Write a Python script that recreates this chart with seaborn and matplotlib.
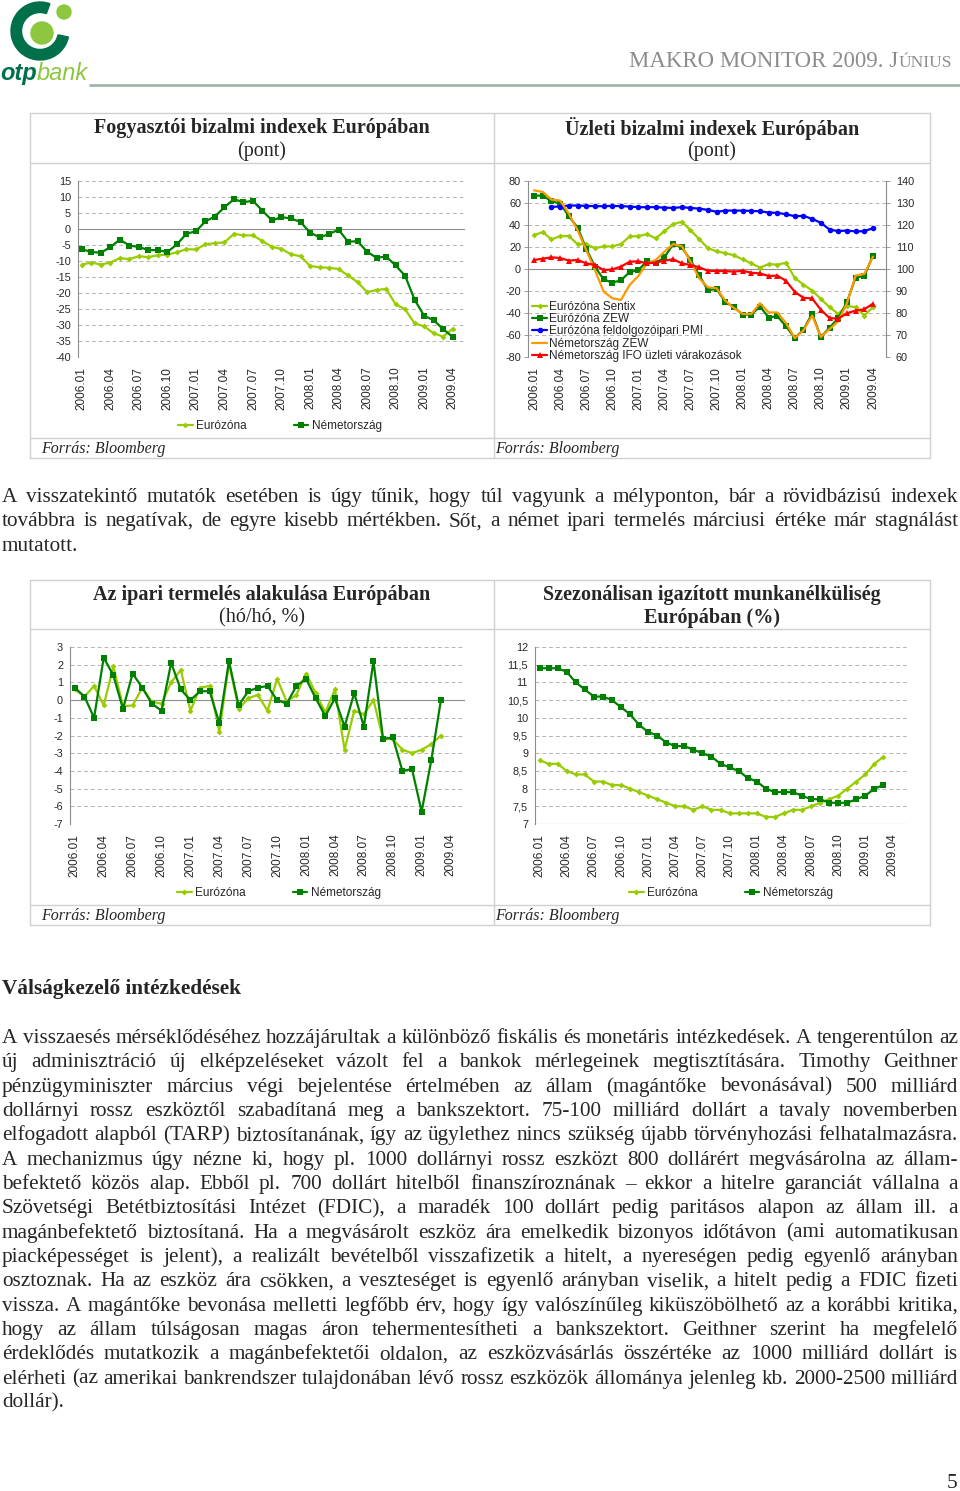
import numpy as np
import matplotlib
matplotlib.use("Agg")
import matplotlib.pyplot as plt
from matplotlib.lines import Line2D
from matplotlib.patches import Wedge, Circle
import seaborn as sns

sns.set_style("white")
plt.rcParams['font.family'] = ['Liberation Sans', 'DejaVu Sans']
plt.rcParams['axes.unicode_minus'] = False
SERIF = ['Liberation Serif', 'DejaVu Serif']

W, H = 960, 1491

# monthly axis 2006.01 - 2009.04, every 3rd month labelled
tick_labels = ['2006.01', '2006.04', '2006.07', '2006.10', '2007.01', '2007.04', '2007.07',
               '2007.10', '2008.01', '2008.04', '2008.07', '2008.10', '2009.01', '2009.04']
tick_pos = np.arange(0, 40, 3)

# Fogyasztói bizalmi indexek (pont), 2006.01-2009.04
cons_euro = [-11.1, -10.5, -11.1, -10.5, -9.1, -9.4, -8.5, -8.8, -8.2, -8.0,
             -7.3, -6.3, -6.4, -4.8, -4.4, -4.2, -1.5, -2.0, -2.0, -3.8,
             -5.6, -6.2, -7.9, -8.5, -11.5, -12.0, -12.1, -12.5, -14.5, -16.6,
             -19.7, -19.1, -18.7, -23.5, -25.1, -29.5, -30.4, -32.6, -33.6, -31.2]
cons_de = [-6.3, -7.2, -7.4, -5.7, -3.3, -5.2, -5.6, -6.6, -6.6, -7.2,
           -4.8, -1.5, -0.7, 2.4, 3.9, 6.8, 9.3, 8.4, 8.8, 5.7,
           2.7, 3.7, 3.3, 2.2, -1.1, -2.6, -1.6, -0.2, -4.0, -3.8,
           -7.1, -9.0, -8.6, -11.4, -14.6, -22.1, -27.1, -28.5, -31.3, -33.7]

# Üzleti bizalmi indexek
sentix = [30.8, 33.5, 26.9, 29.9, 29.9, 22.6, 22.6, 19.0, 20.5, 20.5,
          22.6, 29.6, 29.9, 31.7, 27.8, 34.4, 40.8, 42.9, 35.3, 27.2,
          19.0, 16.0, 14.5, 12.4, 8.8, 5.1, 1.2, 4.5, 3.9, 5.7,
          -8.2, -14.2, -19.6, -27.2, -34.7, -40.8, -33.5, -34.7, -42.3, -34.7]
zew_euro = [66.7, 66.7, 61.6, 59.5, 48.0, 37.7, 18.4, 2.1, -9.4, -12.4,
            -10.3, -2.7, -1.2, 7.5, 5.4, 10.6, 22.6, 19.6, 8.2, -5.7,
            -19.3, -18.1, -29.9, -34.7, -41.4, -41.4, -34.1, -44.1, -42.9, -52.2,
            -62.8, -55.2, -40.5, -61.9, -53.4, -44.7, -30.2, -7.8, -6.3, 12.1]
pmi_euro = [56.5, 56.8, 57.7, 57.7, 57.4, 57.1, 57.1, 57.4, 57.1, 56.8,
            56.2, 56.2, 56.2, 55.8, 55.5, 56.2, 55.5, 54.9, 53.7, 52.0,
            53.1, 53.1, 53.1, 52.8, 52.5, 51.3, 51.0, 49.8, 48.0, 48.3,
            45.6, 42.0, 35.9, 34.4, 35.0, 34.1, 34.4, 37.1]  # 2006.03-tól
zew_de = [71.5, 70.0, 63.1, 62.2, 50.4, 35.3, 17.2, -0.9, -20.5, -26.6,
          -28.1, -14.5, -6.3, 5.1, 8.2, 15.7, 22.6, 20.8, 6.6, -8.5,
          -16.6, -17.5, -28.7, -35.6, -40.8, -40.8, -31.1, -39.5, -39.5, -49.2,
          -62.8, -55.8, -42.3, -61.9, -54.6, -47.7, -31.1, -6.0, -4.5, 11.2]
ifo_de = [104.1, 104.7, 105.3, 105.0, 103.8, 104.1, 102.6, 101.8, 99.5, 99.8,
          101.1, 103.3, 103.5, 102.6, 102.9, 103.8, 104.4, 102.6, 101.8, 100.8,
          99.2, 99.1, 99.1, 98.8, 99.2, 98.3, 98.0, 96.8, 97.0, 94.6,
          89.6, 86.9, 86.6, 81.5, 77.7, 77.4, 79.9, 81.1, 81.7, 84.2]

# Ipari termelés (hó/hó, %), 2006.01-2009.03
ip_euro = [0.6, 0.2, 0.8, -0.3, 1.9, -0.35, -0.3, 0.7, -0.1, -0.2,
           1.0, 1.7, -0.6, 0.7, 0.8, -1.8, 2.1, -0.5, 0.1, 0.3,
           -0.6, 1.2, -0.1, 0.3, 1.5, 0.4, -0.7, 0.6, -2.8, -0.6,
           -0.8, 0.0, -2.2, -2.2, -2.8, -3.0, -2.8, -2.5, -2.0]
ip_de = [0.7, 0.2, -1.0, 2.4, 1.4, -0.5, 1.5, 0.7, -0.2, -0.6,
         2.1, 0.6, 0.0, 0.5, 0.5, -1.3, 2.2, -0.3, 0.5, 0.7,
         0.8, 0.0, -0.2, 0.8, 1.2, 0.1, -0.9, 0.1, -1.5, 0.4,
         -1.5, 2.2, -2.2, -2.1, -4.0, -3.9, -6.3, -3.4, 0.0]

# Munkanélküliség (%), 2006.01-2009.03
unemp_euro = [8.8, 8.7, 8.7, 8.5, 8.4, 8.4, 8.2, 8.2, 8.1, 8.1,
              8.0, 7.9, 7.8, 7.7, 7.6, 7.5, 7.5, 7.4, 7.5, 7.4,
              7.4, 7.3, 7.3, 7.3, 7.3, 7.2, 7.2, 7.3, 7.4, 7.4,
              7.5, 7.6, 7.7, 7.8, 8.0, 8.2, 8.4, 8.7, 8.9]
unemp_de = [11.4, 11.4, 11.4, 11.3, 11.0, 10.8, 10.6, 10.6, 10.5, 10.3,
            10.1, 9.8, 9.6, 9.5, 9.3, 9.2, 9.2, 9.1, 9.0, 8.9,
            8.7, 8.6, 8.5, 8.3, 8.2, 8.0, 7.9, 7.9, 7.9, 7.8,
            7.7, 7.7, 7.6, 7.6, 7.6, 7.7, 7.8, 8.0, 8.1]
unemp_ticks = [7, 7.5, 8, 8.5, 9, 9.5, 10, 10.5, 11, 11.5, 12]
unemp_labels = ['7', '7,5', '8', '8,5', '9', '9,5', '10', '10,5', '11', '11,5', '12']

para1 = [
    "A visszatekintő mutatók esetében is úgy tűnik, hogy túl vagyunk a mélyponton, bár a rövidbázisú indexek",
    "továbbra is negatívak, de egyre kisebb mértékben. Sőt, a német ipari termelés márciusi értéke már stagnálást",
    "mutatott.",
]
para2 = [
    "A visszaesés mérséklődéséhez hozzájárultak a különböző fiskális és monetáris intézkedések. A tengerentúlon az",
    "új adminisztráció új elképzeléseket vázolt fel a bankok mérlegeinek megtisztítására. Timothy Geithner",
    "pénzügyminiszter március végi bejelentése értelmében az állam (magántőke bevonásával) 500 milliárd",
    "dollárnyi rossz eszköztől szabadítaná meg a bankszektort. 75-100 milliárd dollárt a tavaly novemberben",
    "elfogadott alapból (TARP) biztosítanának, így az ügylethez nincs szükség újabb törvényhozási felhatalmazásra.",
    "A mechanizmus úgy nézne ki, hogy pl. 1000 dollárnyi rossz eszközt 800 dollárért megvásárolna az állam-",
    "befektető közös alap. Ebből pl. 700 dollárt hitelből finanszíroznának – ekkor a hitelre garanciát vállalna a",
    "Szövetségi Betétbiztosítási Intézet (FDIC), a maradék 100 dollárt pedig paritásos alapon az állam ill. a",
    "magánbefektető biztosítaná. Ha a megvásárolt eszköz ára emelkedik bizonyos időtávon (ami automatikusan",
    "piacképességet is jelent), a realizált bevételből visszafizetik a hitelt, a nyereségen pedig egyenlő arányban",
    "osztoznak. Ha az eszköz ára csökken, a veszteséget is egyenlő arányban viselik, a hitelt pedig a FDIC fizeti",
    "vissza. A magántőke bevonása melletti legfőbb érv, hogy így valószínűleg kiküszöbölhető az a korábbi kritika,",
    "hogy az állam túlságosan magas áron tehermentesítheti a bankszektort. Geithner szerint ha megfelelő",
    "érdeklődés mutatkozik a magánbefektetői oldalon, az eszközvásárlás összértéke az 1000 milliárd dollárt is",
    "elérheti (az amerikai bankrendszer tulajdonában lévő rossz eszközök állománya jelenleg kb. 2000-2500 milliárd",
    "dollár).",
]

LIGHT = '#99CC00'
DARK = '#008000'
GRID = '#b4b4b4'
AXIS = '#8c8c8c'
BORDER = '#d0d0d0'
YTICK_FS = 7.8
XTICK_FS = 8.5
LEG_FS = 8.5

fig = plt.figure(figsize=(W / 100, H / 100), dpi=100, facecolor='white')
page = fig.add_axes([0, 0, 1, 1], zorder=0)
page.set_xlim(0, W)
page.set_ylim(H, 0)
page.axis('off')
renderer = fig.canvas.get_renderer()


def box(x0, y0, x1, y1):
    ax = fig.add_axes([x0 / W, 1 - y1 / H, (x1 - x0) / W, (y1 - y0) / H], zorder=2)
    ax.patch.set_alpha(0)
    return ax


def series(ax, y, color, marker, start=0, ms=4.0, lw=1.6):
    x = np.arange(start, start + len(y))
    sns.lineplot(x=x, y=y, ax=ax, color=color, marker=marker, markersize=ms,
                 markeredgewidth=0, linewidth=lw, legend=False, zorder=3)


def style(ax, ylim, yticks, xlim, ylabels=None, base=0):
    ax.set_xlim(*xlim)
    ax.set_ylim(*ylim)
    ax.set_yticks(yticks)
    if ylabels is not None:
        ax.set_yticklabels(ylabels)
    ax.set_xticks(tick_pos)
    ax.set_xticklabels(tick_labels, rotation=90)
    ax.set_axisbelow(True)
    ax.yaxis.grid(True, linestyle=(0, (4, 3)), color=GRID, linewidth=0.7)
    ax.xaxis.grid(False)
    for s in ['top', 'right', 'bottom']:
        ax.spines[s].set_visible(False)
    ax.spines['left'].set_color(AXIS)
    ax.spines['left'].set_linewidth(0.8)
    ax.axhline(base, color=AXIS, linewidth=0.8, zorder=1)
    ax.tick_params(axis='y', length=3, width=0.6, color=AXIS, labelsize=YTICK_FS, pad=2)
    ax.tick_params(axis='x', length=0, labelsize=XTICK_FS, pad=7)
    ax.set_xlabel('')
    ax.set_ylabel('')


def bottom_legend(cx, cy):
    h = [Line2D([], [], color=LIGHT, marker='D', markersize=3, markeredgewidth=0, lw=1.6),
         Line2D([], [], color=DARK, marker='s', markersize=4, markeredgewidth=0, lw=1.6)]
    fig.legend(h, ['Eurózóna', 'Németország'], loc='center', ncol=2,
               bbox_to_anchor=(cx / W, 1 - cy / H), frameon=False, fontsize=LEG_FS,
               handlelength=1.2, handletextpad=0.3, columnspacing=4.0)


# ---- page frame: logo, header ----
page.add_patch(Wedge((40, 31), 29, 12, 290, width=10.5, color='#00704a'))
page.add_patch(Circle((42, 33), 11, color='#8dc63f'))
page.add_patch(Circle((64, 12), 7, color='#8dc63f'))
t = page.text(0, 80, 'otp', fontsize=17, fontweight='bold', style='italic', color='#00704a',
              va='baseline', family=['Liberation Sans', 'DejaVu Sans'])
ow = t.get_window_extent(renderer).width
page.text(ow, 80, 'bank', fontsize=17, style='italic', color='#8dc63f', va='baseline',
          family=['Liberation Sans', 'DejaVu Sans'])
page.plot([90, 960], [85, 85], color='#9db8aa', lw=2)

t = page.text(952, 67, 'ÚNIUS', fontsize=12.5, color='#8c8c8c', ha='right', va='baseline', family=SERIF)
uw = t.get_window_extent(renderer).width
page.text(952 - uw, 67, 'MAKRO MONITOR 2009. J', fontsize=16.5, color='#8c8c8c', ha='right',
          va='baseline', family=SERIF)

# ---- table frames ----
for top, tsep, ssep, bot in [(113, 163, 438, 458), (580, 629, 905, 925)]:
    for yy in (top, tsep, ssep, bot):
        page.plot([30, 930], [yy, yy], color=BORDER, lw=1)
    for xx in (30, 494, 930):
        page.plot([xx, xx], [top, bot], color=BORDER, lw=1)
    page.text(41, bot - 9, 'Forrás: Bloomberg', fontsize=11.5, style='italic', va='center', family=SERIF)
    page.text(495, bot - 9, 'Forrás: Bloomberg', fontsize=11.5, style='italic', va='center', family=SERIF)

titles = [(262, 128, 'Fogyasztói bizalmi indexek Európában', '(pont)'),
          (712, 128, 'Üzleti bizalmi indexek Európában', '(pont)'),
          (262, 595, 'Az ipari termelés alakulása Európában', '(hó/hó, %)'),
          (712, 595, 'Szezonálisan igazított munkanélküliség', 'Európában (%)')]
for i, (cx, cy, l1, l2) in enumerate(titles):
    page.text(cx, cy, l1, fontsize=14.5, fontweight='bold', ha='center', va='center', family=SERIF)
    page.text(cx, cy + 23, l2, fontsize=14.5, fontweight='bold' if i == 3 else 'normal',
              ha='center', va='center', family=SERIF)

# ---- chart 1: consumer confidence ----
ax1 = box(78, 181, 465, 357)
series(ax1, cons_euro, LIGHT, 'D', ms=3)
series(ax1, cons_de, DARK, 's')
style(ax1, (-40, 15), np.arange(-40, 16, 5), (-0.4, 40.3))
bottom_legend(280, 426)

# ---- chart 2: business confidence ----
ax2 = box(528, 181, 886, 357)
series(ax2, sentix, LIGHT, 'D', ms=3)
series(ax2, zew_euro, DARK, 's')
series(ax2, pmi_euro, '#0000FF', 'o', start=2)
series(ax2, zew_de, '#FF9900', None)
style(ax2, (-80, 80), np.arange(-80, 81, 20), (-0.7, 40.5))
ax2r = ax2.twinx()
series(ax2r, ifo_de, '#FF0000', '^')
ax2r.set_ylim(60, 140)
ax2r.set_yticks(np.arange(60, 141, 10))
ax2r.set_ylabel('')
for s in ['top', 'left', 'bottom']:
    ax2r.spines[s].set_visible(False)
ax2r.spines['right'].set_color(AXIS)
ax2r.spines['right'].set_linewidth(0.8)
ax2r.tick_params(axis='y', length=3, width=0.6, color=AXIS, labelsize=YTICK_FS, pad=4)
ax2r.grid(False)
h2 = [Line2D([], [], color=LIGHT, marker='D', markersize=3, markeredgewidth=0, lw=1.6),
      Line2D([], [], color=DARK, marker='s', markersize=4, markeredgewidth=0, lw=1.6),
      Line2D([], [], color='#0000FF', marker='o', markersize=4, markeredgewidth=0, lw=1.6),
      Line2D([], [], color='#FF9900', lw=1.6),
      Line2D([], [], color='#FF0000', marker='^', markersize=4, markeredgewidth=0, lw=1.6)]
ax2r.legend(h2, ['Eurózóna Sentix', 'Eurózóna ZEW', 'Eurózóna feldolgozóipari PMI',
                 'Németország ZEW', 'Németország IFO üzleti várakozások'],
            loc='upper left', bbox_to_anchor=(532 / W, 1 - 301 / H), bbox_transform=fig.transFigure,
            frameon=False, fontsize=LEG_FS, handlelength=1.3, handletextpad=0.15,
            labelspacing=0.02, borderpad=0, borderaxespad=0)

# ---- chart 3: industrial production ----
ax3 = box(70, 647, 465, 824)
series(ax3, ip_euro, LIGHT, 'D', ms=3)
series(ax3, ip_de, DARK, 's')
style(ax3, (-7, 3), np.arange(-7, 4, 1), (-0.5, 40.5))
bottom_legend(279, 893)

# ---- chart 4: unemployment ----
ax4 = box(535, 647, 907, 824)
series(ax4, unemp_euro, LIGHT, 'D', ms=3)
series(ax4, unemp_de, DARK, 's')
style(ax4, (7, 12), unemp_ticks, (-0.5, 40.6), ylabels=unemp_labels, base=7)
bottom_legend(731, 893)


# ---- body text ----
def body_line(y, s, size, justify=True, left=2, right=958, **kw):
    if not justify:
        page.text(left, y, s, fontsize=size, va='baseline', family=SERIF, **kw)
        return
    words = s.split(' ')
    ts = [page.text(0, y, w, fontsize=size, va='baseline', family=SERIF, **kw) for w in words]
    ws = [tt.get_window_extent(renderer).width for tt in ts]
    gap = (right - left - sum(ws)) / (len(ws) - 1)
    x = left
    for tt, w in zip(ts, ws):
        tt.set_x(x)
        x += w + gap


probe = page.text(0, 0, para2[0], fontsize=14, family=SERIF)
fs = 14 * 955 / probe.get_window_extent(renderer).width
probe.remove()

for i, s in enumerate(para1):
    body_line(502 + i * 24.33, s, fs, justify=i < len(para1) - 1)

page.text(2, 994, 'Válságkezelő intézkedések', fontsize=fs, fontweight='bold', va='baseline', family=SERIF)

for i, s in enumerate(para2):
    body_line(1043 + i * 24.33, s, fs, justify=i < len(para2) - 1)

page.text(957, 1488, '5', fontsize=fs, ha='right', va='baseline', family=SERIF)

fig.savefig('out.png', dpi=100, facecolor='white')
